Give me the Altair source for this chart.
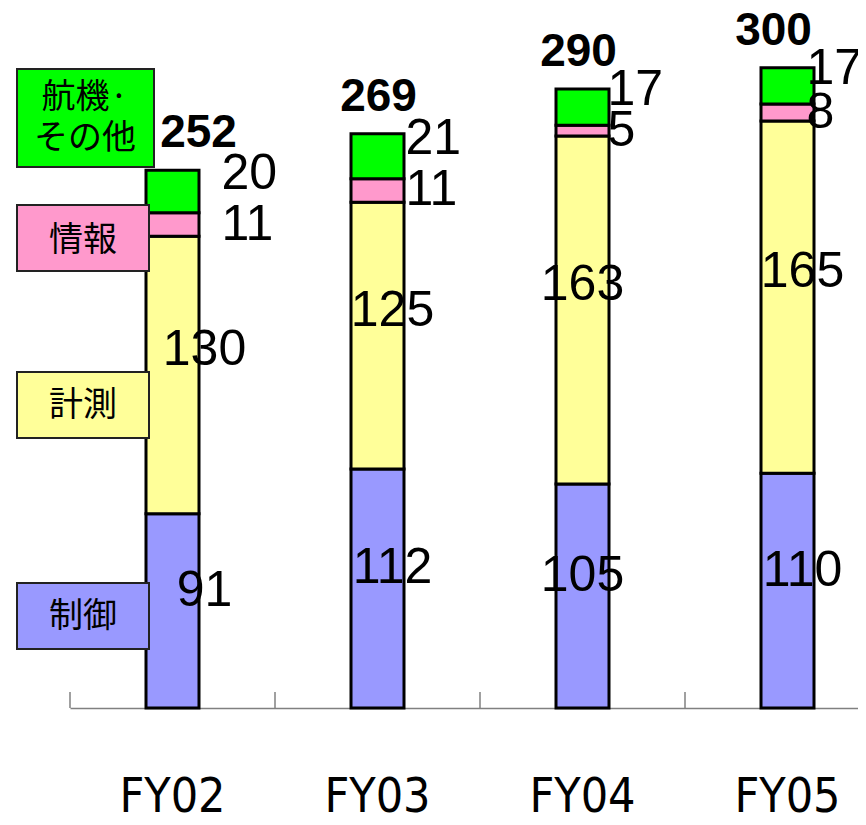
import altair as alt
import pandas as pd

# ---------------- data ----------------
categories = ["FY02", "FY03", "FY04", "FY05"]
series = ["制御", "計測", "情報", "航機・その他"]
control = [91, 112, 105, 110]
measure = [130, 125, 163, 165]
info = [11, 11, 5, 8]
other = [20, 21, 17, 17]
totals = [252, 269, 290, 300]
legend_labels = ["制御", "計測", "情報", "航機·\nその他"]
colors = ["#9999FF", "#FFFF99", "#FF99CC", "#00FF00"]

# ---------------- styles ----------------
W, H = 788, 683
STEP = 205
FONT = "Liberation Sans, Arial, sans-serif"
JFONT = "Noto Sans CJK JP"
CAT_FONT = "DejaVu Sans Condensed, Liberation Sans, sans-serif"
# legend boxes (pixel positions relative to plot origin): x, x2, y, y2, text x, text y
legend_geom = {
    "航機・その他": (-53, 84, 44, 142, 15, 73),
    "情報": (-53, 79, 180, 246, 13, 216),
    "計測": (-53, 79, 347, 413, 13, 381),
    "制御": (-53, 79, 558, 624, 13, 592),
}
label_style = {  # align, dx, dy
    "制御": ("center", 15, -20),
    "計測": ("center", 15, -25),
    "情報": ("left", 28, 0),
    "航機・その他": ("left", 28, -17),
}
# per-year horizontal nudges of the value labels (px)
big_shift = {"FY02": 17, "FY03": 0, "FY04": -15, "FY05": 0}
small_shift = {"FY02": 21, "FY03": 0, "FY04": -3, "FY05": -9}
total_shift = {"FY02": 26, "FY03": 1, "FY04": -4, "FY05": -14}

x_scale = alt.Scale(domain=[0, W / STEP], nice=False, zero=False, padding=0)
y_scale = alt.Scale(domain=[0, 320], nice=False, padding=0)

rows = []
for i, cat in enumerate(categories):
    base = 0
    for k, (s, vals) in enumerate(zip(series, [control, measure, info, other])):
        v = vals[i]
        rows.append(dict(cat=cat, xc=i + 0.5, series=s, k=k, value=v,
                         y0=base, y1=base + v, mid=base + v / 2))
        base += v
seg = pd.DataFrame(rows)
tot = pd.DataFrame(dict(cat=categories,
                        xc=[i + 0.5 for i in range(len(categories))],
                        total=totals))
tick_df = pd.DataFrame(dict(b=list(range(len(categories)))))

bars = alt.Chart(seg).mark_bar(size=53, stroke="black", strokeWidth=3).encode(
    x=alt.X("xc:Q", scale=x_scale,
            axis=alt.Axis(labels=False, ticks=False, grid=False,
                          domainColor="#808080", domainWidth=1.5, title=None)),
    y=alt.Y("y0:Q", scale=y_scale, axis=None),
    y2="y1:Q",
    color=alt.Color("series:N", scale=alt.Scale(domain=series, range=colors),
                    legend=None),
)

ticks = alt.Chart(tick_df).mark_rule(color="#808080", strokeWidth=1.5).encode(
    x=alt.X("b:Q", scale=x_scale),
    y=alt.value(H - 16),
    y2=alt.value(H),
)

layers = [bars, ticks]

for s in series:
    align, dx, dy = label_style[s]
    for cat in categories:
        shift = (big_shift if align == "center" else small_shift)[cat]
        layers.append(
            alt.Chart(seg)
            .transform_filter((alt.datum.series == s) & (alt.datum.cat == cat))
            .mark_text(font=FONT, fontSize=50, color="black", align=align,
                       baseline="middle", dx=dx + shift, dy=dy)
            .encode(x=alt.X("xc:Q", scale=x_scale),
                    y=alt.Y("mid:Q", scale=y_scale),
                    text="value:Q")
        )

for cat in categories:
    layers.append(
        alt.Chart(tot).transform_filter(alt.datum.cat == cat)
        .mark_text(font=FONT, fontSize=46, fontWeight="bold",
                   color="black", align="center", baseline="middle",
                   dx=total_shift[cat], dy=-37)
        .encode(x=alt.X("xc:Q", scale=x_scale),
                y=alt.Y("total:Q", scale=y_scale),
                text="total:Q")
    )

layers.append(
    alt.Chart(tot).mark_text(font=CAT_FONT, fontSize=48, color="black",
                             align="center", baseline="alphabetic")
    .encode(x=alt.X("xc:Q", scale=x_scale),
            y=alt.value(H + 104),
            text="cat:N")
)

for s, lab, col in zip(series, legend_labels, colors):
    x0, x1, y0, y1, tx, ty = legend_geom[s]
    one = pd.DataFrame(dict(label=[lab]))
    layers.append(
        alt.Chart(one).mark_rect(stroke="#222222", strokeWidth=2)
        .encode(x=alt.value(x0), x2=alt.value(x1), y=alt.value(y0),
                y2=alt.value(y1), color=alt.value(col))
    )
    layers.append(
        alt.Chart(one).mark_text(font=JFONT, fontSize=34, color="black",
                                 align="center", baseline="middle",
                                 lineBreak="\n", lineHeight=41)
        .encode(x=alt.value(tx), y=alt.value(ty), text="label:N")
    )

chart = alt.layer(*layers).properties(
    width=W, height=H,
    padding={"left": 62, "top": 17, "right": 0, "bottom": 109},
    autosize="none",
    background="white",
).configure_view(stroke=None)

chart.save("out.html", embed_options={"renderer": "svg", "actions": False})
